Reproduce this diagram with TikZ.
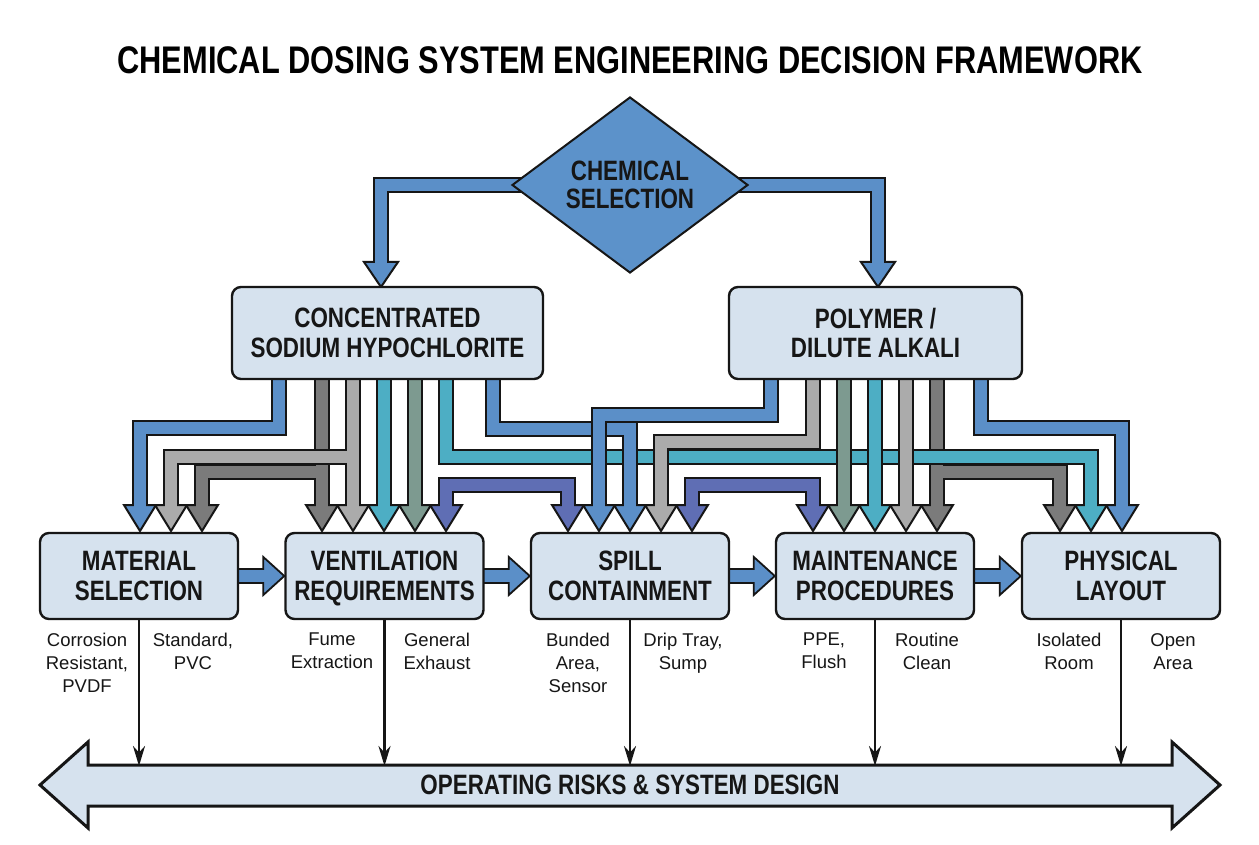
\documentclass[tikz,border=0pt]{standalone}
\usepackage{fontspec}
\setmainfont{Liberation Sans}
\newfontfamily\cond[FakeStretch=0.8]{Liberation Sans}
\usetikzlibrary{shapes.geometric,arrows.meta,calc}
\pgfdeclarelayer{back}
\pgfdeclarelayer{bg}
\pgfsetlayers{back,bg,main}
\definecolor{boxfill}{HTML}{D6E2EE}
\definecolor{pblue}{HTML}{5B8FC8}
\definecolor{pteal}{HTML}{4DAEC4}
\definecolor{plgray}{HTML}{ABABAB}
\definecolor{pdgray}{HTML}{7B7B7B}
\definecolor{pggreen}{HTML}{7D9A90}
\definecolor{ppurple}{HTML}{5F6EB4}
\definecolor{ink}{HTML}{161616}
\definecolor{dia}{HTML}{5C92CA}
% band outline pass / colour pass / arrow head
\newcommand\bandK[1]{\draw[line width=16pt,ink] #1;}
\newcommand\bandC[2]{\draw[line width=12pt,#1] #2;}
\newcommand\headD[3]{\filldraw[fill=#1,draw=ink,line width=2pt] (#2-16,#3) -- (#2+16,#3) -- (#2,#3+26) -- cycle;}
\newcommand\headG[3]{\filldraw[fill=#1,draw=ink,line width=2pt] (#2-17,#3) -- (#2+17,#3) -- (#2,#3+25) -- cycle;}
% straight pipe from a box to a head
\newcommand\straight[2]{\bandK{(#2,370) -- (#2,505)}\headD{#1}{#2}{505}\bandC{#1}{(#2,370) -- (#2,507)}}
% elbow pipe: colour, x-start, y-level, x-end
\newcommand\elbow[4]{\bandK{(#2,370) -- (#2,#3) -- (#4,#3) -- (#4,505)}\headD{#1}{#4}{505}\bandC{#1}{(#2,370) -- (#2,#3) -- (#4,#3) -- (#4,507)}}
\newcommand\harrow[2]{\filldraw[fill=pblue,draw=ink,line width=1.8pt] ($(#1.east)+(-4,-7)$) -- ($(#2.west)+(-21,-7)$) -- ($(#2.west)+(-21,-19)$) -- (#2.west) -- ($(#2.west)+(-21,19)$) -- ($(#2.west)+(-21,7)$) -- ($(#1.east)+(-4,7)$);}
\begin{document}
\begin{tikzpicture}[x=1pt,y=-1pt,
  boxstyle/.style={draw=ink,line width=2.4pt,rounded corners=9pt,fill=boxfill,align=center,inner sep=0pt,
    font=\cond\bfseries\fontsize{28}{29.5}\selectfont,text=ink},
  lowbox/.style={boxstyle,minimum width=198,minimum height=86},
  lbl/.style={align=center,inner sep=0pt,anchor=north,font=\fontsize{18.5}{23}\selectfont,text=ink},
  conn/.style={draw=ink,line width=2.6pt,-{Stealth[length=20pt,width=12pt]}}]
\begin{pgfonlayer}{back}
\fill[white] (0,0) rectangle (1259,845);
\end{pgfonlayer}
\useasboundingbox (0,0) rectangle (1259,845);

\node[inner sep=0pt,font=\cond\bfseries\fontsize{38.5}{40}\selectfont] (title) at (630,60) {CHEMICAL DOSING SYSTEM ENGINEERING DECISION FRAMEWORK};

\node[shape=diamond,draw=ink,line width=2pt,fill=dia,minimum width=236,minimum height=155,inner sep=0pt,align=center,
  font=\cond\bfseries\fontsize{28}{28}\selectfont,text=ink] (chem) at (630,185) {CHEMICAL\\SELECTION};

\node[boxstyle,minimum width=311,minimum height=92] (conc) at (387.5,333) {CONCENTRATED\\SODIUM HYPOCHLORITE};
\node[boxstyle,minimum width=293,minimum height=92] (poly) at (875.5,333) {POLYMER /\\DILUTE ALKALI};

\node[lowbox] (mat) at (139,576) {MATERIAL\\SELECTION};
\node[lowbox] (vent) at (384.5,576) {VENTILATION\\RE\smash{Q}UIREMENTS};
\node[lowbox] (spill) at (630,576) {SPILL\\CONTAINMENT};
\node[lowbox] (maint) at (875,576) {MAINTENANCE\\PROCEDURES};
\node[lowbox] (phys) at (1121,576) {PHYSICAL\\LAYOUT};

\begin{pgfonlayer}{bg}
% from the diamond
\bandK{(560,185) -- (381,185) -- (381,262)}\headG{pblue}{381}{262}\bandC{pblue}{(560,185) -- (381,185) -- (381,264)}
\bandK{(700,185) -- (878,185) -- (878,262)}\headG{pblue}{878}{262}\bandC{pblue}{(700,185) -- (878,185) -- (878,264)}
% polymer dark grey (stem + branch)
\bandK{(937,370) -- (937,505)}\bandK{(937,472) -- (1060,472) -- (1060,505)}
\headD{pdgray}{937}{505}\headD{pdgray}{1060}{505}
\bandC{pdgray}{(937,370) -- (937,507)}\bandC{pdgray}{(937,472) -- (1060,472) -- (1060,507)}
% concentrated teal, long run
\elbow{pteal}{446}{457}{1091}
% concentrated blue to material
\elbow{pblue}{279}{428}{140}
% concentrated dark grey (stem + branch)
\bandK{(322,370) -- (322,505)}\bandK{(322,472) -- (202,472) -- (202,505)}
\headD{pdgray}{322}{505}\headD{pdgray}{202}{505}
\bandC{pdgray}{(322,370) -- (322,507)}\bandC{pdgray}{(322,472) -- (202,472) -- (202,507)}
% concentrated light grey (stem + branch)
\bandK{(353,370) -- (353,505)}\bandK{(353,457) -- (171,457) -- (171,505)}
\headD{plgray}{353}{505}\headD{plgray}{171}{505}
\bandC{plgray}{(353,370) -- (353,507)}\bandC{plgray}{(353,457) -- (171,457) -- (171,507)}
% concentrated straight stems
\straight{pteal}{384}
\straight{pggreen}{415}
% concentrated blue to spill
\elbow{pblue}{493}{429}{630}
% polymer blue to spill
\elbow{pblue}{771}{415}{599}
% polymer light grey to spill
\elbow{plgray}{813}{442}{661}
% polymer straight stems
\straight{pggreen}{844}
\straight{pteal}{875}
\straight{plgray}{906}
% polymer blue to layout
\elbow{pblue}{981}{428}{1122}
% purple brackets
\bandK{(446,505) -- (446,485) -- (568,485) -- (568,505)}\headD{ppurple}{446}{505}\headD{ppurple}{568}{505}
\bandC{ppurple}{(446,507) -- (446,485) -- (568,485) -- (568,507)}
\bandK{(692,505) -- (692,485) -- (813,485) -- (813,505)}\headD{ppurple}{692}{505}\headD{ppurple}{813}{505}
\bandC{ppurple}{(692,507) -- (692,485) -- (813,485) -- (813,507)}
% arrows between the lower boxes
\harrow{mat}{vent}
\harrow{vent}{spill}
\harrow{spill}{maint}
\harrow{maint}{phys}
\end{pgfonlayer}

% labels
\node[lbl] (l1) at (87,633) {Corrosion\\Resistant,\\PVDF};
\node[lbl] (l2) at (193,633) {Standard,\\PVC};
\node[lbl] (l3) at (332,633) {Fume\\Extraction};
\node[lbl] (l4) at (437,633) {General\\Exhaust};
\node[lbl] (l5) at (578,633) {Bunded\\Area,\\Sensor};
\node[lbl] (l6) at (683,633) {Drip Tray,\\Sump};
\node[lbl] (l7) at (824,633) {PPE,\\Flush};
\node[lbl] (l8) at (927,633) {Routine\\Clean};
\node[lbl] (l9) at (1069,633) {Isolated\\Room};
\node[lbl] (l10) at (1173,633) {Open\\Area};

% bottom double arrow
\filldraw[fill=boxfill,draw=ink,line width=3pt] (40,785) -- (88,742) -- (88,765) -- (1172,765) -- (1172,742) -- (1220,785) -- (1172,828) -- (1172,806) -- (88,806) -- (88,828) -- cycle;
\node[inner sep=0pt,font=\cond\bfseries\fontsize{28}{28}\selectfont,text=ink] (risk) at (630,785) {OPERATING RISKS \& SYSTEM DESIGN};
\coordinate (bartop) at (0,766);
\draw[conn] (mat.south) -- (mat.south |- bartop);
\draw[conn] (vent.south) -- (vent.south |- bartop);
\draw[conn] (spill.south) -- (spill.south |- bartop);
\draw[conn] (maint.south) -- (maint.south |- bartop);
\draw[conn] (phys.south) -- (phys.south |- bartop);
\end{tikzpicture}
\end{document}
